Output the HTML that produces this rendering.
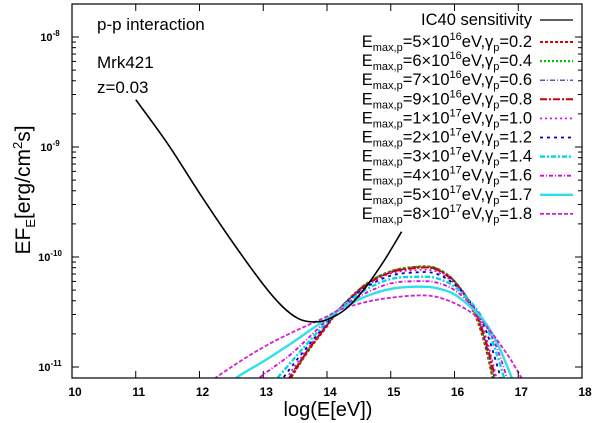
<!DOCTYPE html>
<html><head><meta charset="utf-8"><style>
html,body{margin:0;padding:0;background:#fff;}
svg{display:block;font-family:"Liberation Sans",sans-serif;}
</style></head><body>
<svg id="chart" width="600" height="423" viewBox="0 0 600 423" xmlns="http://www.w3.org/2000/svg">
<rect x="0" y="0" width="600" height="423" fill="#fff"/>
<g id="series"></g>
<rect x="72" y="4" width="510" height="374" fill="none" stroke="#000" stroke-width="1.2"/>
<g id="axes"></g>
<g id="legend"></g>
<text x="97" y="30" font-size="17">p-p interaction</text>
<text x="97" y="68" font-size="17">Mrk421</text>
<text x="97" y="93" font-size="17">z=0.03</text>
<text x="328" y="416" font-size="20" text-anchor="middle">log(E[eV])</text>
<text transform="translate(30,190) rotate(-90)" font-size="21" text-anchor="middle">EF<tspan font-size="13" dy="5">E</tspan><tspan dy="-5">[erg/cm</tspan><tspan font-size="13" dy="-8">2</tspan><tspan dy="8">s]</tspan></text>
</svg>
<script>
const xTicks=[10,11,12,13,14,15,16,17,18];
const yDecades=[-11,-10,-9,-8];
const sensE=[11,11.5,12,12.5,13,13.3,13.55,13.76,14,14.3,14.6,14.9,15.17];
const sensF=[-8.57,-8.97,-9.42,-9.85,-10.25,-10.45,-10.56,-10.59,-10.57,-10.47,-10.28,-10.03,-9.77];
const modelE=[12.0,12.5,13.0,13.4,13.7,14.0,14.2,14.6,15.0,15.4,15.7,16.0,16.3,16.5,16.7,16.9,17.1];
const f02=[null,null,null,-11.13,-10.86,-10.63,-10.47,-10.25,-10.13,-10.09,-10.10,-10.22,-10.50,-10.85,-11.4,null,null];
const f04=[null,null,null,-11.11,-10.85,-10.62,-10.47,-10.25,-10.13,-10.09,-10.10,-10.22,-10.48,-10.82,-11.35,null,null];
const f06=[null,null,null,-11.10,-10.84,-10.62,-10.47,-10.26,-10.14,-10.10,-10.11,-10.22,-10.47,-10.80,-11.3,null,null];
const f08=[null,null,null,-11.12,-10.85,-10.62,-10.47,-10.26,-10.14,-10.10,-10.11,-10.23,-10.47,-10.78,-11.25,null,null];
const f10=[null,null,null,-11.07,-10.83,-10.61,-10.47,-10.27,-10.15,-10.12,-10.13,-10.24,-10.46,-10.74,-11.2,null,null];
const f12=[null,null,-11.35,-11.03,-10.81,-10.60,-10.47,-10.28,-10.17,-10.14,-10.15,-10.25,-10.45,-10.68,-11.05,-11.5,null];
const f14=[null,null,-11.25,-10.98,-10.78,-10.59,-10.47,-10.30,-10.20,-10.18,-10.19,-10.27,-10.44,-10.63,-10.95,-11.35,null];
const f16=[null,-11.3,-11.07,-10.90,-10.74,-10.57,-10.47,-10.33,-10.24,-10.22,-10.23,-10.30,-10.46,-10.62,-10.88,-11.25,null];
const f17=[-11.4,-11.13,-10.95,-10.80,-10.68,-10.56,-10.48,-10.36,-10.29,-10.27,-10.28,-10.34,-10.48,-10.61,-10.82,-11.1,null];
const f18=[-11.2,-11.0,-10.82,-10.70,-10.62,-10.54,-10.48,-10.41,-10.37,-10.35,-10.36,-10.42,-10.52,-10.63,-10.78,-10.95,-11.15];
const labels=["5","6","7","9","1","2","3","4","5","8"];
const exps=["16","16","16","16","17","17","17","17","17","17"];
const gammas=["0.2","0.4","0.6","0.8","1.0","1.2","1.4","1.6","1.7","1.8"];
const seriesF=[f02,f04,f06,f08,f10,f12,f14,f16,f17,f18];
const colors=["#e00000","#00c000","#2020a0","#d00000","#e000e0","#0000c0","#00d8e0","#e000e0","#30e0e8","#d020d0"];
const dashes=["3,2","2,2","5,2,1,2","7,2,2,2","2,3","3,4","5,2,2,2","4,2,1,2","","4,2"];
const widths=[2,2.2,1.2,2,1.6,1.8,2.4,1.8,2.4,1.8];
const NS="http://www.w3.org/2000/svg";
const X0=72,XS=63.75,Y8=37,YD=110;
const LOGMIN=-11.1,LOGMAX=-7.7;
function sx(e){return X0+(e-10)*XS;}
function sy(l){return Y8+(-8-l)*YD;}
function mk(t,a,p){const el=document.createElementNS(NS,t);for(const k in a)el.setAttribute(k,a[k]);p.appendChild(el);return el;}
const axes=document.getElementById('axes');
xTicks.forEach(t=>{
  const x=sx(t);
  const tk=mk('line',{x1:x,x2:x,y1:378,y2:371,stroke:'#000'},axes);
  
  
  const tt=mk('line',{x1:x,x2:x,y1:4,y2:11,stroke:'#000'},axes);
  
  
  const lb=mk('text',{x:x+3,y:396,'font-size':12,'font-weight':'bold','text-anchor':'middle'},axes);
  lb.textContent=t;
  
  
});
yDecades.forEach(d=>{
  for(let m=1;m<10;m++){
    const l=d+Math.log10(m);
    if(l<LOGMIN||l>LOGMAX)continue;
    const y=sy(l),len=m===1?7:4;
    const a=mk('line',{x1:72,x2:72+len,y1:y,y2:y,stroke:'#000'},axes);
    
    
    const b=mk('line',{x1:582,x2:582-len,y1:y,y2:y,stroke:'#000'},axes);
    
    
  }
  const t=mk('text',{x:50,y:sy(d)+4,'font-size':11,'font-weight':'bold','text-anchor':'middle'},axes);
  t.innerHTML='10<tspan font-size="8" dy="-5">'+d+'</tspan>';
  
  
});
const sg=document.getElementById('series');
function smooth(pts){
  if(pts.length<2)return '';
  let d='M'+pts[0][0].toFixed(1)+','+pts[0][1].toFixed(1);
  for(let i=0;i<pts.length-1;i++){
    const p0=pts[i-1]||pts[i],p1=pts[i],p2=pts[i+1],p3=pts[i+2]||pts[i+1];
    const c1=[p1[0]+(p2[0]-p0[0])/6,p1[1]+(p2[1]-p0[1])/6];
    const c2=[p2[0]-(p3[0]-p1[0])/6,p2[1]-(p3[1]-p1[1])/6];
    d+='C'+c1[0].toFixed(1)+','+c1[1].toFixed(1)+' '+c2[0].toFixed(1)+','+c2[1].toFixed(1)+' '+p2[0].toFixed(1)+','+p2[1].toFixed(1);
  }
  return d;
}
function pathFrom(E,F){const pts=[];for(let i=0;i<E.length;i++){if(F[i]!==null)pts.push([sx(E[i]),sy(F[i])]);}return smooth(pts);}
const cp=mk('clipPath',{id:'clip'},sg);mk('rect',{x:72,y:4,width:510,height:374},cp);
seriesF.forEach((F,i)=>{
  const p=mk('path',{d:pathFrom(modelE,F),fill:'none',stroke:colors[i],'stroke-width':widths[i],'stroke-dasharray':dashes[i],'clip-path':'url(#clip)'},sg);
  
  
});
const sp=mk('path',{d:pathFrom(sensE,sensF),fill:'none',stroke:'#000','stroke-width':1.6},sg);


const lg=document.getElementById('legend');
const le=mk('text',{x:532,y:25,'font-size':16.5,'text-anchor':'end'},lg);
le.textContent='IC40 sensitivity';


const ll=mk('line',{x1:540,x2:573,y1:20,y2:20,stroke:'#000','stroke-width':1.2},lg);


gammas.forEach((g,i)=>{
  const y=42+i*19.1;
  const t=mk('text',{x:532,y:y+5,'font-size':16.5,'text-anchor':'end'},lg);
  t.innerHTML='E<tspan font-size="11" dy="4">max,p</tspan><tspan dy="-4">='+labels[i]+'×10</tspan><tspan font-size="11" dy="-7">'+exps[i]+'</tspan><tspan dy="7">eV,γ</tspan><tspan font-size="11" dy="4">p</tspan><tspan dy="-4">='+g+'</tspan>';
  
  
  const l=mk('line',{x1:540,x2:573,y1:y,y2:y,stroke:colors[i],'stroke-width':widths[i],'stroke-dasharray':dashes[i]},lg);
  
  
});
</script>
</body></html>
